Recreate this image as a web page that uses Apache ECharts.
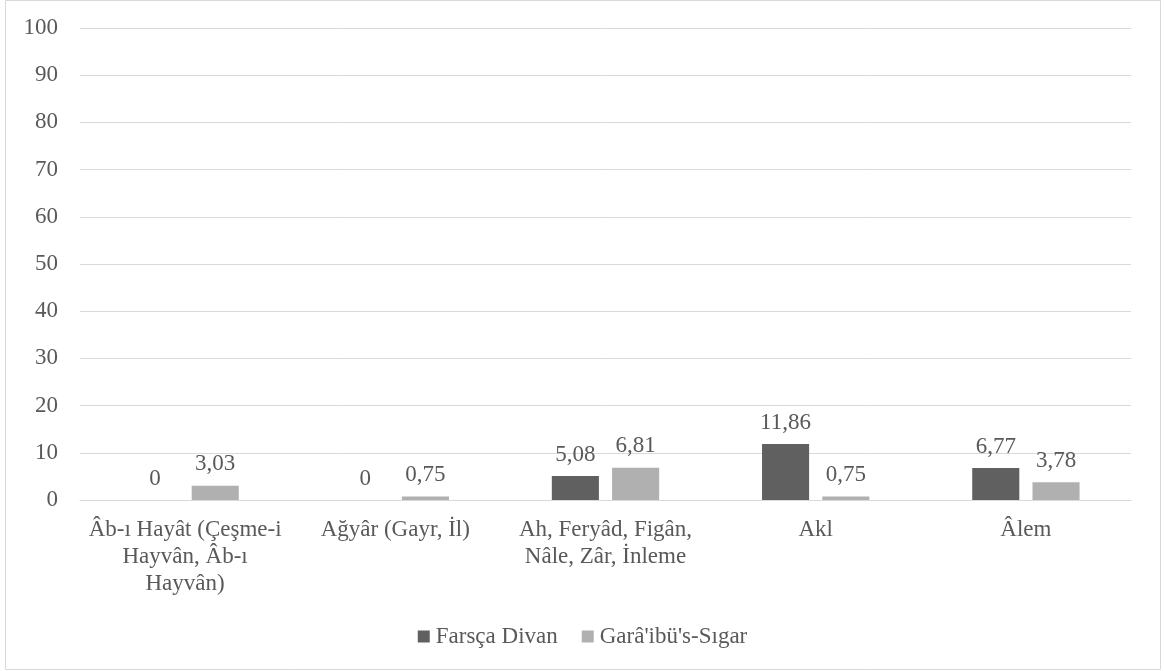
<!DOCTYPE html>
<html><head><meta charset="utf-8">
<script src="https://cdn.jsdelivr.net/npm/echarts@6/dist/echarts.min.js"></script>
<style>html,body{margin:0;padding:0;background:#fff;}#c{width:1165px;height:671px;}</style>
</head><body><div id="c"></div>
<script>
const categories = ["Âb-ı Hayât (Çeşme-i\nHayvân, Âb-ı\nHayvân)", "Ağyâr (Gayr, İl)", "Ah, Feryâd, Figân,\nNâle, Zâr, İnleme", "Akl", "Âlem"];
const farscaDivan = [0, 0, 5.08, 11.86, 6.77];
const garaibusSigar = [3.03, 0.75, 6.81, 0.75, 3.78];
const seriesNames = ["Farsça Divan", "Garâ'ibü's-Sıgar"];
const yTicks = [0, 10, 20, 30, 40, 50, 60, 70, 80, 90, 100];

const font = "'Liberation Serif', 'Times New Roman', serif";
const txt = '#595959';
const fs = 23;
const chart = echarts.init(document.getElementById('c'));
const fmt = p => String(p.value).replace('.', ',');
chart.setOption({
  animation: false,
  textStyle: {fontFamily: font},
  graphic: [{type: 'rect', shape: {x: 5.5, y: 0.5, width: 1155, height: 669}, style: {fill: 'none', stroke: '#d9d9d9', lineWidth: 1}, silent: true}],
  grid: {left: 80, right: 34, top: 28, bottom: 171},
  legend: {top: 620, left: 'center', itemWidth: 12, itemHeight: 12, itemGap: 24,
    icon: 'rect', textStyle: {fontFamily: font, fontSize: fs, color: txt, padding: [0, 0, 0, 1]}, data: seriesNames},
  xAxis: {type: 'category', data: categories,
    axisLine: {lineStyle: {color: '#d9d9d9', width: 1}}, axisTick: {show: false},
    axisLabel: {fontFamily: font, fontSize: fs, color: txt, lineHeight: 27, margin: 16, interval: 0}},
  yAxis: {type: 'value', min: yTicks[0], max: yTicks[yTicks.length - 1], interval: 10,
    axisLine: {show: false}, axisTick: {show: false},
    splitLine: {lineStyle: {color: '#d9d9d9', width: 1}},
    axisLabel: {fontFamily: font, fontSize: fs, color: txt, margin: 22}},
  series: [
    {name: seriesNames[0], type: 'bar', data: farscaDivan, barWidth: '22.4%', barGap: '28%',
      itemStyle: {color: '#606060'},
      label: {show: true, position: 'top', distance: 10, formatter: fmt, fontFamily: font, fontSize: fs, color: txt}},
    {name: seriesNames[1], type: 'bar', data: garaibusSigar, barWidth: '22.4%',
      itemStyle: {color: '#b0b0b0'},
      label: {show: true, position: 'top', distance: 10, formatter: fmt, fontFamily: font, fontSize: fs, color: txt}}
  ]
});
</script></body></html>
